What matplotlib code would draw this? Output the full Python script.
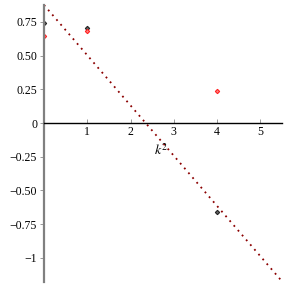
import matplotlib
matplotlib.use("Agg")
import matplotlib.pyplot as plt

plt.rcParams['font.family'] = ['Liberation Serif', 'DejaVu Serif']
plt.rcParams['mathtext.fontset'] = 'stix'

black_x = [0, 1, 4]
black_y = [0.745, 0.705, -0.66]
red_x = [0, 1, 4]
red_y = [0.645, 0.68, 0.238]
line_x = [0.0, 5.5]
line_y = [0.876, -1.175]

xticks = [1, 2, 3, 4, 5]
xticklabels = ["1", "2", "3", "4", "5"]
yticks = [0.75, 0.5, 0.25, 0, -0.25, -0.5, -0.75, -1]
yticklabels = ["0.75", "0.50", "0.25", "0", "\u22120.25", "\u22120.50", "\u22120.75", "\u22121"]

fig = plt.figure(figsize=(2.88, 2.88), dpi=100)
ax = fig.add_axes([44/288, 6/288, 238/288, 277/288])
ax.set_xlim(0, 5.5)
ax.set_ylim(-1.18, 0.876)

ax.plot(line_x, line_y, linestyle=(0, (1, 2.5)), color='#8b0000', linewidth=1.3)
ax.plot(black_x, black_y, linestyle='none', marker='D', markersize=2.2,
        color='#222222', markerfacecolor='#666666', markeredgewidth=0.8)
ax.plot(red_x, red_y, linestyle='none', marker='D', markersize=2.2,
        color='#ff2020', markerfacecolor='#ff8080', markeredgewidth=0.8)

for s in ['top', 'right']:
    ax.spines[s].set_visible(False)
ax.spines['bottom'].set_position(('data', 0))
ax.spines['bottom'].set_color('black')
ax.spines['bottom'].set_linewidth(1.0)
ax.spines['left'].set_position(('data', 0))
ax.spines['left'].set_color('#808080')
ax.spines['left'].set_linewidth(1.6)

ax.set_xticks(xticks)
ax.set_xticklabels(xticklabels)
ax.set_yticks(yticks)
ax.set_yticklabels(yticklabels)
ax.tick_params(axis='x', direction='in', length=3, width=0.6, labelsize=8.5, pad=2, color='#888888')
ax.tick_params(axis='y', direction='out', length=3, width=0.6, labelsize=8.5, pad=2, color='#888888')

ax.text(2.72, -0.2, r'$k^2$', fontsize=10, ha='center', va='center')

fig.savefig('out.png', dpi=100)
